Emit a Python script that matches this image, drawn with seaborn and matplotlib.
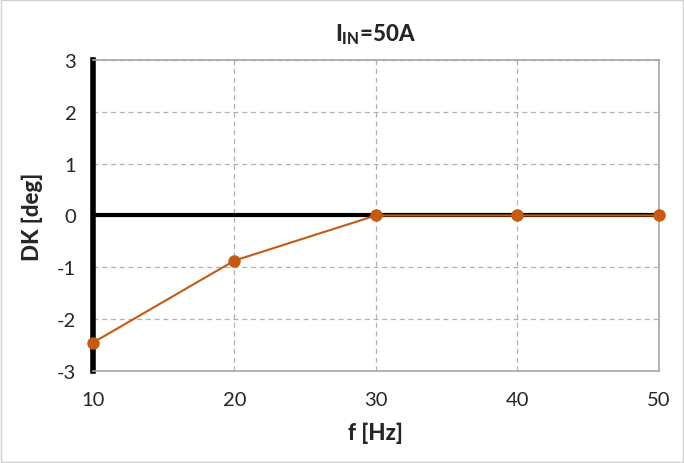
import matplotlib
matplotlib.use("Agg")
import matplotlib.pyplot as plt
import seaborn as sns
import pandas as pd
from matplotlib.patches import Rectangle

freq = [10, 20, 30, 40, 50]
dk = [-2.45, -0.87, 0.0, 0.0, 0.0]
y_ticks = [-3, -2, -1, 0, 1, 2, 3]
x_ticks = [10, 20, 30, 40, 50]

sns.set_style("white")
plt.rcParams['font.family'] = ['Lato', 'DejaVu Sans']
plt.rcParams['mathtext.fontset'] = 'custom'
plt.rcParams['mathtext.rm'] = 'Lato'
plt.rcParams['mathtext.bf'] = 'Lato:black'
plt.rcParams['axes.unicode_minus'] = False

df = pd.DataFrame({"f": freq, "dk": dk})

fig = plt.figure(figsize=(6.84, 4.64), dpi=100)
ax = fig.add_axes([0.136, 0.198, 0.827, 0.671])

ax.set_xlim(10, 50)
ax.set_ylim(-3, 3)
ax.set_xticks(x_ticks)
ax.set_yticks(y_ticks)
ax.grid(True, color='#b0b0b0', linestyle=(0, (4, 3)), linewidth=0.9)
ax.set_axisbelow(True)

ax.axhline(0, color='black', linewidth=3, zorder=2)

sns.lineplot(data=df, x="f", y="dk", ax=ax, color='#c55a11', linewidth=1.5,
             marker='o', markersize=9, markeredgewidth=0, zorder=3, clip_on=False)

for s in ['top', 'right', 'bottom']:
    ax.spines[s].set_color('#a6a6a6')
    ax.spines[s].set_linewidth(1.2)
ax.spines['left'].set_color('black')
ax.spines['left'].set_linewidth(4)

ax.tick_params(axis='x', length=0, labelsize=14.5, pad=14)
ax.tick_params(axis='y', length=0, labelsize=14.5, pad=12)
ax.set_xlabel('f [Hz]', fontsize=16, fontweight='black', labelpad=10)
ax.set_ylabel('DK [deg]', fontsize=16, fontweight='black', labelpad=10)
ax.set_title(r'$\mathbf{I_{IN}}$=50A', fontsize=16, fontweight='black', pad=14)

fig.patches.append(Rectangle((0.002, 0.003), 0.996, 0.994, transform=fig.transFigure,
                             fill=False, edgecolor='#d0d0d0', linewidth=1))

fig.savefig('out.png', dpi=100)
